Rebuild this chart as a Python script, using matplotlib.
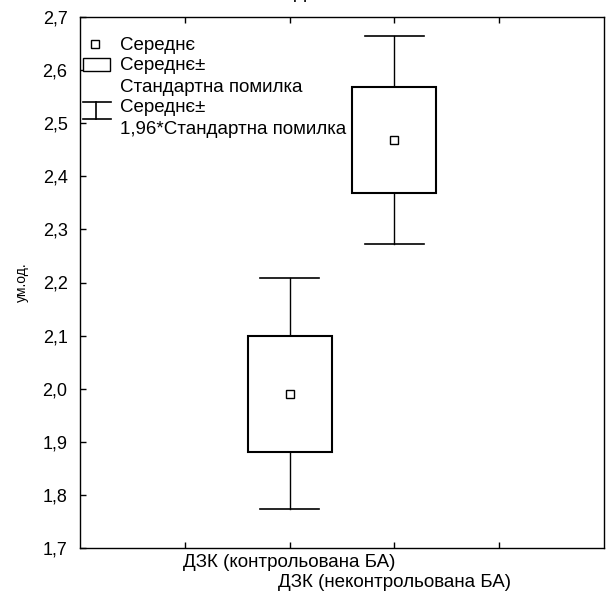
import matplotlib
matplotlib.use('Agg')
import matplotlib.pyplot as plt
from matplotlib.patches import Rectangle
from matplotlib.lines import Line2D
from matplotlib.ticker import FuncFormatter

plt.rcParams['font.family'] = ['Liberation Sans', 'DejaVu Sans']

# values
groupNames = ['ДЗК (контрольована БА)', 'ДЗК (неконтрольована БА)']
groupPositions = [2, 3]
meanValues = [1.990, 2.468]
seLow = [1.881, 2.369]
seHigh = [2.099, 2.568]
ciLow = [1.773, 2.273]
ciHigh = [2.208, 2.664]
yTicks = [1.7, 1.8, 1.9, 2.0, 2.1, 2.2, 2.3, 2.4, 2.5, 2.6, 2.7]

boxWidth = 0.8
capWidth = 0.57

fig = plt.figure(figsize=(6.07, 5.97), dpi=100)
ax = fig.add_axes([80 / 607, 1 - 548 / 597, 524 / 607, 531 / 597])

for i in range(len(groupPositions)):
    x = groupPositions[i]
    ax.plot([x, x], [ciLow[i], seLow[i]], color='black', lw=1.0, zorder=2)
    ax.plot([x, x], [seHigh[i], ciHigh[i]], color='black', lw=1.0, zorder=2)
    ax.plot([x - capWidth / 2, x + capWidth / 2], [ciLow[i], ciLow[i]], color='black', lw=1.2, zorder=2)
    ax.plot([x - capWidth / 2, x + capWidth / 2], [ciHigh[i], ciHigh[i]], color='black', lw=1.2, zorder=2)
    ax.add_patch(Rectangle((x - boxWidth / 2, seLow[i]), boxWidth, seHigh[i] - seLow[i],
                           facecolor='white', edgecolor='black', lw=1.5, zorder=3))
    ax.plot([x], [meanValues[i]], marker='s', markersize=6, markerfacecolor='white',
            markeredgecolor='black', markeredgewidth=1.0, zorder=4)

ax.set_xlim(0, 5)
ax.set_ylim(1.7, 2.7)
ax.set_xticks([1, 2, 3, 4])
ax.set_xticklabels(['', groupNames[0], '\n' + groupNames[1], ''], fontsize=13.5)
ax.set_yticks(yTicks)
ax.yaxis.set_major_formatter(FuncFormatter(lambda v, p: ('%.1f' % v).replace('.', ',')))
ax.tick_params(axis='both', direction='in', length=4, width=1, top=True, right=False)
ax.tick_params(axis='y', labelsize=13, pad=9)
ax.tick_params(axis='x', pad=4)
for spine in ax.spines.values():
    spine.set_linewidth(1.0)
for lbl in ax.get_xticklabels():
    lbl.set_linespacing(1.3)

ax.set_ylabel('ум.од.', fontsize=10)
ax.yaxis.set_label_coords(-0.097, 0.5)

fig.text(311 / 607, 1 - 2 / 597, 'ДЗК', ha='center', va='bottom', fontsize=13)

# legend drawn by hand, in figure pixels
def pix(x, y):
    return x / 607, 1 - y / 597

fig.add_artist(Line2D([pix(95, 44)[0]], [pix(95, 44)[1]], marker='s', markersize=6,
                      markerfacecolor='white', markeredgecolor='black', markeredgewidth=1.0,
                      transform=fig.transFigure))
fig.add_artist(Rectangle(pix(83, 71), 27 / 607, 13 / 597, facecolor='white', edgecolor='black',
                         lw=1.0, transform=fig.transFigure))
for seg in [((83, 102), (111, 102)), ((83, 119), (111, 119)), ((96, 102), (96, 119))]:
    (x0, y0), (x1, y1) = seg
    a, b = pix(x0, y0), pix(x1, y1)
    fig.add_artist(Line2D([a[0], b[0]], [a[1], b[1]], color='black', lw=1.2, transform=fig.transFigure))

legendLines = ['Середнє', 'Середнє±', 'Стандартна помилка', 'Середнє±', '1,96*Стандартна помилка']
legendY = [45, 66, 87, 108, 130]
for t, yy in zip(legendLines, legendY):
    p = pix(120, yy)
    fig.text(p[0], p[1], t, ha='left', va='center', fontsize=13.5)

fig.savefig('out.png', dpi=100)
